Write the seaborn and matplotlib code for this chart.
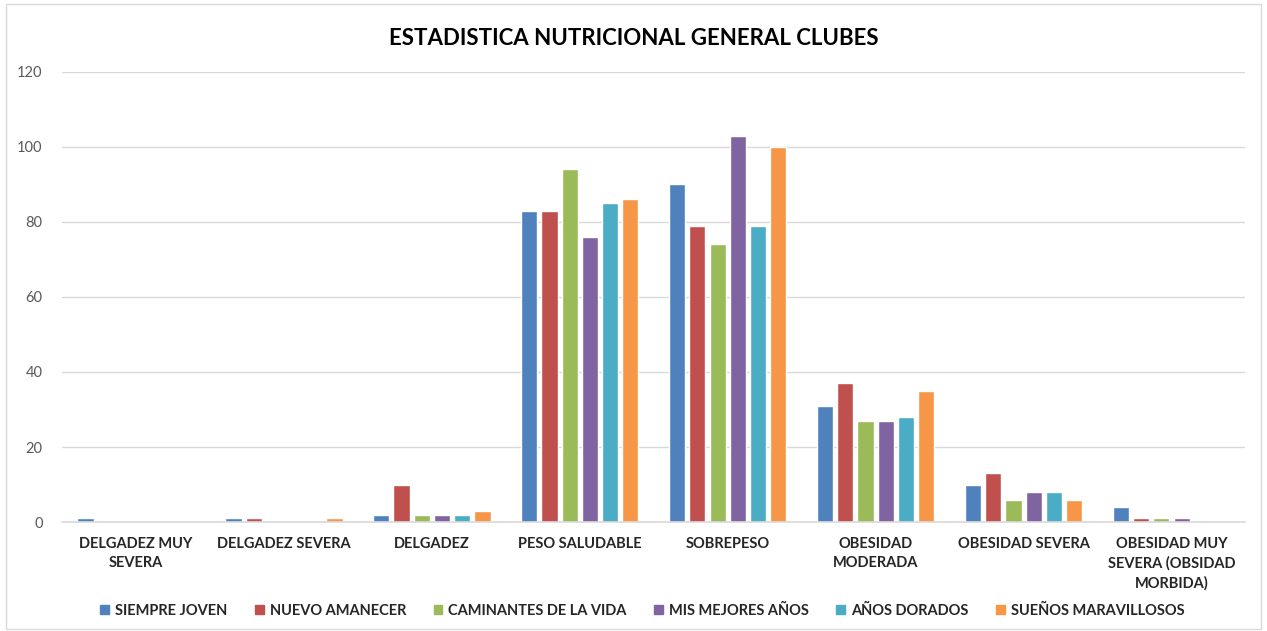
import matplotlib
matplotlib.use('Agg')
import matplotlib.pyplot as plt
import seaborn as sns
import pandas as pd

categorias = ['DELGADEZ MUY\nSEVERA', 'DELGADEZ SEVERA', 'DELGADEZ', 'PESO SALUDABLE',
              'SOBREPESO', 'OBESIDAD\nMODERADA', 'OBESIDAD SEVERA',
              'OBESIDAD MUY\nSEVERA (OBSIDAD\nMORBIDA)']
clubes = ['SIEMPRE JOVEN', 'NUEVO AMANECER', 'CAMINANTES DE LA VIDA',
          'MIS MEJORES AÑOS', 'AÑOS DORADOS', 'SUEÑOS MARAVILLOSOS']

siempre_joven = [1, 1, 2, 83, 90, 31, 10, 4]
nuevo_amanecer = [0, 1, 10, 83, 79, 37, 13, 1]
caminantes = [0, 0, 2, 94, 74, 27, 6, 1]
mis_mejores = [0, 0, 2, 76, 103, 27, 8, 1]
anos_dorados = [0, 0, 2, 85, 79, 28, 8, 0]
suenos = [0, 1, 3, 86, 100, 35, 6, 0]

colores = ['#4F81BD', '#C0504D', '#9BBB59', '#8064A2', '#4BACC6', '#F79646']

series = [siempre_joven, nuevo_amanecer, caminantes, mis_mejores, anos_dorados, suenos]
filas = []
for club, valores in zip(clubes, series):
    for cat, v in zip(categorias, valores):
        filas.append({'categoria': cat, 'club': club, 'valor': v})
df = pd.DataFrame(filas)

sns.set_style('white')
plt.rcParams['font.family'] = ['Lato', 'DejaVu Sans']

fig = plt.figure(figsize=(12.67, 6.31), dpi=100)
ax = fig.add_axes([0.049, 0.1727, 0.934, 0.7133])

sns.barplot(data=df, x='categoria', y='valor', hue='club', palette=colores,
            width=0.82, gap=0.2, ax=ax, legend=False, saturation=1)
for p in ax.patches:
    if p.get_height() == 0:
        p.set_visible(False)

ax.set_ylim(0, 120)
ax.set_yticks(range(0, 121, 20))
ax.set_xlim(-0.5, 7.5)
ax.grid(axis='y', color='#d9d9d9', linewidth=1)
ax.set_axisbelow(True)
for s in ['top', 'right', 'left']:
    ax.spines[s].set_visible(False)
ax.spines['bottom'].set_color('#d9d9d9')
ax.spines['bottom'].set_linewidth(1.2)
ax.tick_params(axis='y', colors='#595959', labelsize=10.5, length=0, pad=14)
ax.tick_params(axis='x', length=0, pad=11)
for lbl in ax.get_xticklabels():
    lbl.set_fontweight('bold')
    lbl.set_fontsize(10.5)
    lbl.set_linespacing(1.45)
    lbl.set_verticalalignment('top')
ax.set_xlabel('')
ax.set_ylabel('')

fig.suptitle('ESTADISTICA NUTRICIONAL GENERAL CLUBES', y=0.955, fontsize=16,
             fontweight='bold', color='black')

handles = [plt.Rectangle((0, 0), 1, 1, color=c) for c in colores]
fig.legend(handles, clubes, loc='center', bbox_to_anchor=(0.507, 0.032), ncol=6,
           frameon=False, handlelength=0.6, handleheight=0.6, handletextpad=0.4,
           columnspacing=1.9, prop={'weight': 'bold', 'size': 10.5})

border = plt.Rectangle((0.005, 0.003), 0.99, 0.99, transform=fig.transFigure,
                       fill=False, edgecolor='#d9d9d9', linewidth=1)
fig.patches.append(border)

fig.savefig('out.png', dpi=100)
